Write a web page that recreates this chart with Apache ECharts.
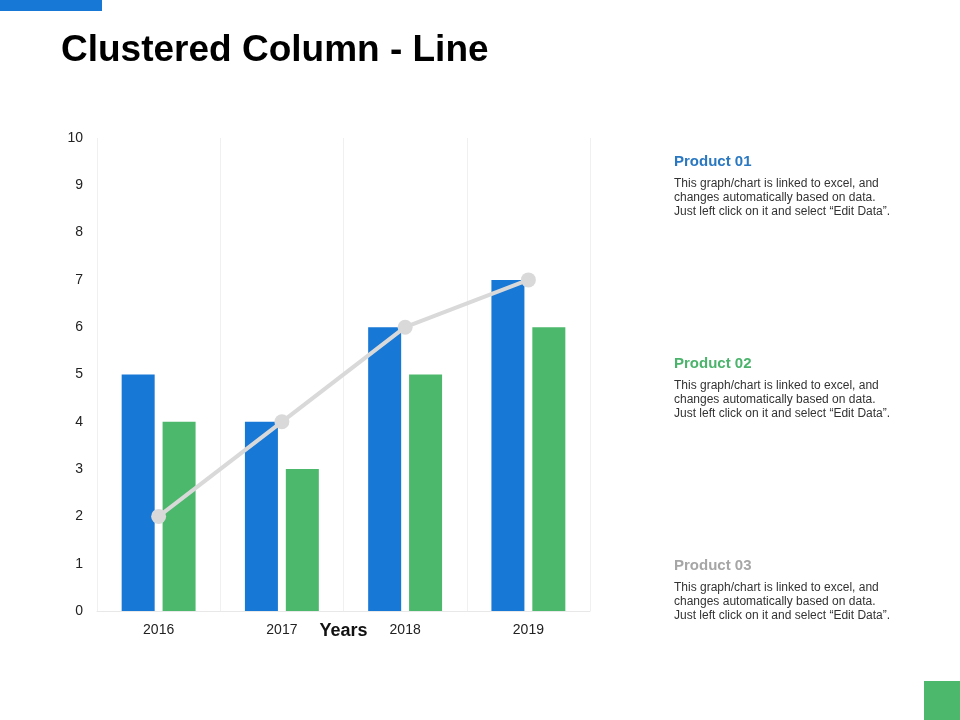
<!DOCTYPE html>
<html>
<head>
<meta charset="utf-8">
<title>Clustered Column - Line</title>
<script src="https://cdn.jsdelivr.net/npm/echarts@6/dist/echarts.min.js"></script>
<style>
  html, body { margin: 0; padding: 0; background: #fff; }
  #chart { width: 960px; height: 720px; }
</style>
</head>
<body>
<div id="chart"></div>
<script>
// data
const years = ['2016', '2017', '2018', '2019'];
const product01 = [5, 4, 6, 7];
const product02 = [4, 3, 5, 6];
const product03 = [2, 4, 6, 7];

const blue = '#1878d6';
const green = '#4cb86c';
const grey = '#d9d9d9';

const note = 'This graph/chart is linked to excel, and\nchanges automatically based on data.\nJust left click on it and select \u201cEdit Data\u201d.';

// one side note block (header + text)
function sideNote(top, title, color) {
  return [{
    type: 'text', left: 674, top: top,
    style: { text: title, fill: color, font: 'bold 15px "Liberation Sans", Arial, sans-serif' }
  }, {
    type: 'text', left: 674, top: top + 23,
    style: { text: note, fill: '#333', lineHeight: 14, font: '12px "Liberation Sans", Arial, sans-serif' }
  }];
}

const chart = echarts.init(document.getElementById('chart'));

chart.setOption({
  animation: false,
  backgroundColor: '#fff',
  textStyle: { fontFamily: '"Liberation Sans", Arial, sans-serif' },
  grid: { left: 97, right: 370, top: 138, bottom: 109 },
  graphic: [
    { type: 'rect', left: 0, top: 0, shape: { width: 102, height: 11 }, style: { fill: blue } },
    { type: 'rect', left: 924, top: 681, shape: { width: 36, height: 39 }, style: { fill: green } },
    {
      type: 'text', left: 61, top: 32,
      style: { text: 'Clustered Column - Line', fill: '#000', font: 'bold 37px "Liberation Sans", Arial, sans-serif' }
    }
  ].concat(
    sideNote(154, 'Product 01', '#2a78c2'),
    sideNote(356, 'Product 02', '#4bb36c'),
    sideNote(558, 'Product 03', '#a6a6a6')
  ),
  xAxis: {
    type: 'category',
    data: years,
    name: 'Years',
    nameLocation: 'middle',
    nameGap: 11,
    nameMoveOverlap: false,
    nameTextStyle: { fontSize: 18, fontWeight: 'bold', color: '#111' },
    axisLine: { lineStyle: { color: '#e8e8e8' } },
    axisTick: { show: false },
    axisLabel: { fontSize: 14, color: '#222', margin: 12 },
    splitLine: { show: true, lineStyle: { color: '#f0f0f0' } }
  },
  yAxis: {
    type: 'value',
    min: 0,
    max: 10,
    interval: 1,
    axisLine: { show: false },
    axisTick: { show: false },
    axisLabel: { fontSize: 14, color: '#222', margin: 14 },
    splitLine: { show: false }
  },
  series: [
    {
      name: 'Product 01', type: 'bar', data: product01,
      barWidth: 33, barGap: '24%',
      itemStyle: { color: blue }
    },
    {
      name: 'Product 02', type: 'bar', data: product02,
      barWidth: 33,
      itemStyle: { color: green }
    },
    {
      name: 'Product 03', type: 'line', data: product03,
      symbol: 'circle', symbolSize: 15,
      lineStyle: { color: grey, width: 4 },
      itemStyle: { color: grey },
      z: 5
    }
  ]
});
</script>
</body>
</html>
